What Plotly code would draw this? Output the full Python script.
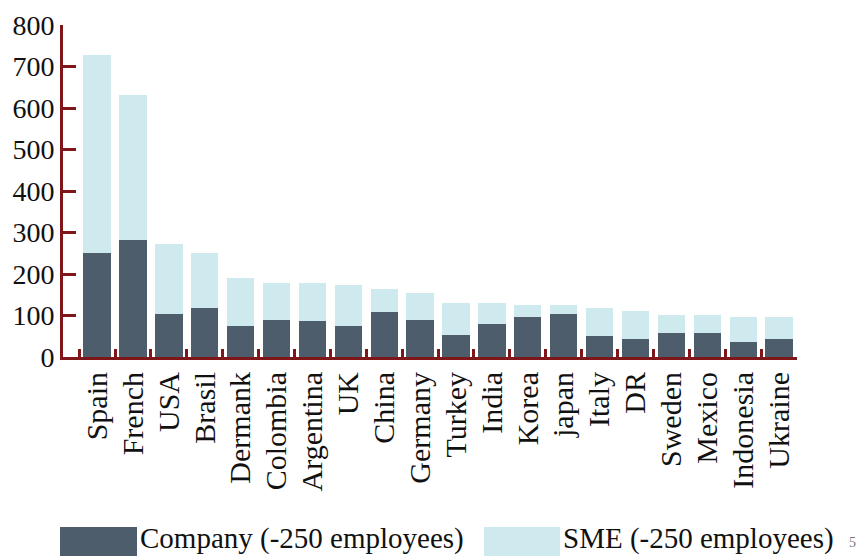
import plotly.graph_objects as go

countries = ["Spain", "French", "USA", "Brasil", "Dermank", "Colombia", "Argentina", "UK",
             "China", "Germany", "Turkey", "India", "Korea", "japan", "Italy", "DR",
             "Sweden", "Mexico", "Indonesia", "Ukraine"]
company = [251, 283, 104, 118, 75, 89, 87, 75, 108, 89, 54, 80, 97, 104, 51, 44, 58, 58, 37, 44]
sme = [477, 348, 168, 133, 115, 89, 91, 98, 56, 65, 77, 51, 29, 22, 68, 67, 44, 44, 60, 53]
y_ticks = [0, 100, 200, 300, 400, 500, 600, 700, 800]

DARK = "#4e5d6c"
LIGHT = "#ceeaef"
AXIS = "#7f1619"
FONT = "Liberation Serif"

fig = go.Figure()
fig.add_trace(go.Bar(x=countries, y=company, name="Company (-250 employees)",
                     marker=dict(color=DARK, line=dict(width=0)), width=0.76, showlegend=False))
fig.add_trace(go.Bar(x=countries, y=sme, name="SME (-250 employees)",
                     marker=dict(color=LIGHT, line=dict(width=0)), width=0.76, showlegend=False))

fig.update_layout(
    barmode="stack",
    width=859, height=559,
    margin=dict(l=63, r=62, t=25, b=202),
    plot_bgcolor="white", paper_bgcolor="white",
    font=dict(family=FONT, color="#111111", size=28),
)
fig.update_xaxes(
    type="category", range=[-0.95, 19.5], automargin=False,
    tickmode="linear", tick0=0, dtick=1,
    showline=True, linecolor=AXIS, linewidth=3,
    ticks="inside", tickson="boundaries", ticklen=8, tickwidth=3, tickcolor=AXIS,
    tickangle=-90, tickfont=dict(size=30, family=FONT), showgrid=False,
)
fig.update_yaxes(
    range=[0, 800], tickvals=y_ticks, automargin=False,
    showline=True, linecolor=AXIS, linewidth=3,
    ticks="inside", ticklen=13, tickwidth=3, tickcolor=AXIS,
    tickfont=dict(size=28, family=FONT), showgrid=False, zeroline=False,
)

# custom legend with large swatches
PW, PH = 734, 332
legend_items = [("Company (-250 employees)", DARK, 60, 137), ("SME (-250 employees)", LIGHT, 484, 560)]
for label, color, x0, x1 in legend_items:
    fig.add_shape(type="rect", xref="paper", yref="paper",
                  x0=(x0 - 63) / PW, x1=(x1 - 63) / PW,
                  y0=-(556 - 357) / PH, y1=-(527 - 357) / PH,
                  fillcolor=color, line=dict(width=0))
    fig.add_annotation(text=label, xref="paper", yref="paper",
                       x=(x1 + 1 - 63) / PW, y=-(538 - 357) / PH,
                       xanchor="left", yanchor="middle", showarrow=False,
                       font=dict(size=29, family=FONT, color="#111111"))

fig.add_annotation(text="5", xref="paper", yref="paper",
                   x=(858 - 63) / PW, y=-(542 - 357) / PH,
                   xanchor="right", yanchor="middle", showarrow=False,
                   font=dict(size=14, family=FONT, color="#777777"))

fig.write_html("out.html", config={"displayModeBar": False},
               post_script="document.body.style.margin='0';document.body.style.overflow='hidden';")
